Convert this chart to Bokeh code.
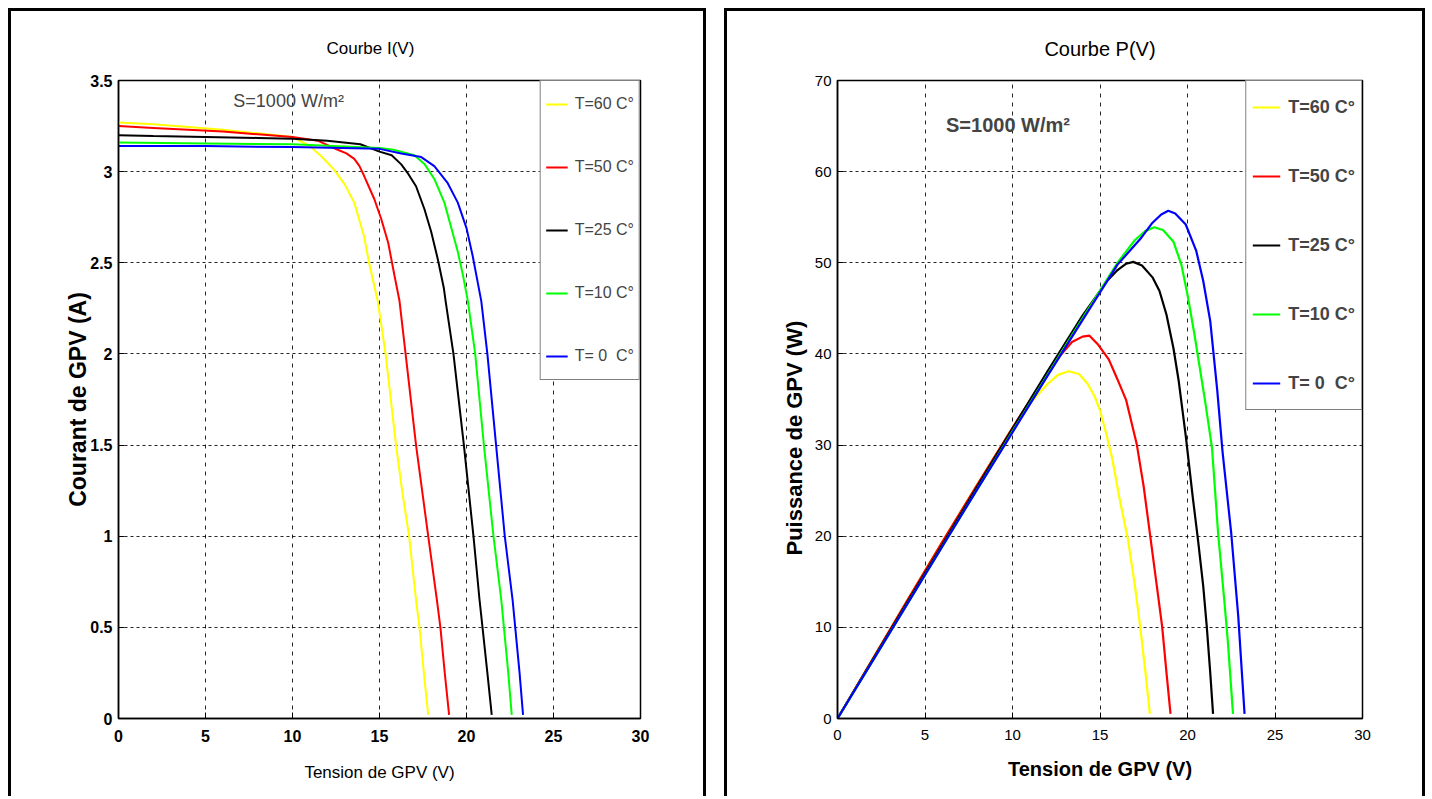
from bokeh.plotting import figure
from bokeh.models import FixedTicker, Legend, LegendItem, Label, Title
from bokeh.layouts import row
from bokeh.embed import file_html
from bokeh.resources import INLINE

# ---------------- data ----------------
labels = ["T=60 C°", "T=50 C°", "T=25 C°", "T=10 C°", "T= 0  C°"]
colors = ["#ffff00", "#ff0000", "#000000", "#00ff00", "#0000ff"]

# I(V) curves (V in volts, I in amps)
iv_v60 = [0, 2, 4, 6, 8, 10, 11, 11.7, 12.4, 13.0, 13.55, 14.1, 14.4, 14.9, 15.35, 15.95, 16.3, 16.7, 17.1, 17.3, 17.55, 17.8]
iv_i60 = [3.27, 3.26, 3.245, 3.23, 3.21, 3.19, 3.14, 3.08, 3.01, 2.93, 2.83, 2.65, 2.5, 2.29, 2.0, 1.5, 1.25, 1.0, 0.65, 0.5, 0.25, 0.02]
iv_v50 = [0, 2, 4, 6, 8, 10, 11.45, 12.6, 13.1, 13.55, 13.85, 14.1, 14.7, 15.1, 15.5, 15.86, 16.15, 16.5, 17.1, 17.8, 18.3, 18.5, 18.75, 19.0]
iv_i50 = [3.25, 3.24, 3.23, 3.22, 3.205, 3.19, 3.17, 3.12, 3.10, 3.07, 3.03, 2.98, 2.85, 2.74, 2.61, 2.43, 2.29, 2.0, 1.5, 1.0, 0.65, 0.5, 0.25, 0.02]
iv_v25 = [0, 2, 5, 8, 10, 12, 13.9, 15, 15.7, 16.25, 16.6, 17.1, 17.58, 17.97, 18.35, 18.7, 18.8, 19.25, 19.85, 20.4, 20.75, 20.92, 21.2, 21.45]
iv_i25 = [3.20, 3.195, 3.19, 3.185, 3.18, 3.17, 3.15, 3.11, 3.09, 3.04, 2.995, 2.92, 2.795, 2.67, 2.52, 2.36, 2.29, 2.0, 1.5, 1.0, 0.65, 0.5, 0.25, 0.02]
iv_v10 = [0, 5, 10, 15, 15.8, 17.0, 17.6, 18.15, 18.73, 19.1, 19.5, 19.8, 20.08, 20.5, 21.0, 21.55, 22.0, 22.15, 22.4, 22.6]
iv_i10 = [3.16, 3.155, 3.15, 3.13, 3.12, 3.09, 3.04, 2.96, 2.83, 2.70, 2.56, 2.43, 2.29, 2.0, 1.5, 1.0, 0.65, 0.5, 0.25, 0.02]
iv_v0 = [0, 5, 10, 15, 16.25, 17.4, 18.15, 18.9, 19.5, 20.0, 20.35, 20.65, 20.85, 21.2, 21.7, 22.2, 22.65, 22.8, 23.05, 23.25]
iv_i0 = [3.14, 3.14, 3.135, 3.125, 3.10, 3.08, 3.03, 2.94, 2.83, 2.69, 2.54, 2.39, 2.29, 2.0, 1.5, 1.0, 0.65, 0.5, 0.25, 0.02]

# P(V) curves (V in volts, P in watts)
pv_v60 = [0, 2, 4, 6, 8, 10, 11, 12, 12.6, 13.2, 13.8, 14.3, 14.7, 15.0, 15.35, 15.7, 16.1, 16.6, 17.0, 17.3, 17.6, 17.85]
pv_p60 = [0, 6.5, 13.0, 19.4, 25.7, 31.9, 34.6, 36.7, 37.7, 38.1, 37.8, 36.7, 35.3, 33.8, 31.3, 28.5, 24.3, 19.6, 14.5, 10.0, 5.0, 0.5]
pv_v50 = [0, 2, 4, 6, 8, 10, 12, 12.8, 13.4, 14.0, 14.4, 14.9, 15.5, 16.0, 16.5, 17.1, 17.5, 17.85, 18.25, 18.55, 18.8, 19.03]
pv_p50 = [0, 6.5, 13.0, 19.4, 25.7, 31.9, 37.9, 40.0, 41.3, 41.9, 42.0, 41.0, 39.4, 37.2, 34.9, 30.1, 25.4, 20.3, 14.5, 10.1, 5.0, 0.5]
pv_v25 = [0, 2, 4, 6, 8, 10, 12, 14, 15.4, 16.0, 16.5, 16.9, 17.4, 18.0, 18.4, 18.8, 19.2, 19.5, 19.9, 20.3, 20.6, 20.9, 21.1, 21.3, 21.46]
pv_p25 = [0, 6.4, 12.8, 19.1, 25.5, 31.8, 38.1, 44.2, 48.0, 49.2, 49.9, 50.1, 49.7, 48.4, 46.9, 44.3, 40.6, 37.0, 31.0, 24.3, 19.6, 14.5, 10.1, 5.0, 0.5]
pv_v10 = [0, 2, 4, 6, 8, 10, 12, 14, 16, 17.0, 17.6, 18.1, 18.6, 19.2, 19.65, 20.0, 20.4, 20.7, 21.0, 21.4, 21.75, 22.1, 22.3, 22.6]
pv_p10 = [0, 6.3, 12.6, 18.9, 25.2, 31.5, 37.7, 43.9, 50.0, 52.5, 53.5, 53.9, 53.6, 52.3, 49.8, 46.5, 42.1, 38.5, 34.9, 29.7, 20.3, 13.0, 8.6, 0.5]
pv_v0 = [0, 2, 4, 6, 8, 10, 12, 14, 16, 17.3, 18.0, 18.5, 18.9, 19.3, 19.9, 20.5, 20.9, 21.3, 21.7, 22.0, 22.5, 22.9, 23.26]
pv_p0 = [0, 6.3, 12.6, 18.9, 25.2, 31.4, 37.6, 43.7, 49.8, 52.6, 54.4, 55.3, 55.7, 55.4, 54.2, 51.3, 48.0, 43.6, 36.0, 29.3, 20.3, 11.2, 0.5]

x_ticks = [0, 5, 10, 15, 20, 25, 30]
i_ticks = [0, 0.5, 1, 1.5, 2, 2.5, 3, 3.5]
i_tick_labels = ["0", "0.5", "1", "1.5", "2", "2.5", "3", "3.5"]
p_ticks = [0, 10, 20, 30, 40, 50, 60, 70]
irradiance_text = "S=1000 W/m²"

iv_series = [(iv_v60, iv_i60), (iv_v50, iv_i50), (iv_v25, iv_i25), (iv_v10, iv_i10), (iv_v0, iv_i0)]
pv_series = [(pv_v60, pv_p60), (pv_v50, pv_p50), (pv_v25, pv_p25), (pv_v10, pv_p10), (pv_v0, pv_p0)]

FONT = "Liberation Sans"
BORDER = {"border-top": "3px solid black", "border-left": "3px solid black",
          "border-right": "3px solid black"}


def make_fig(w, mb_left, mb_right, y_end, yticks, ylabels, tick_style):
    p = figure(width=w, height=788, x_range=(0, 30), y_range=(0, y_end),
               output_backend="svg", toolbar_location=None,
               min_border_left=mb_left, min_border_right=mb_right,
               min_border_top=69, min_border_bottom=81)
    p.styles = BORDER
    p.title.text_font = FONT
    p.title.text_font_style = "normal"
    p.title.text_color = "black"
    p.outline_line_color = "black"
    p.outline_line_width = 1.5
    p.background_fill_color = "white"
    p.border_fill_color = "white"

    p.xaxis.ticker = FixedTicker(ticks=x_ticks)
    p.yaxis.ticker = FixedTicker(ticks=yticks)
    p.yaxis.major_label_overrides = {t: l for t, l in zip(yticks, ylabels)}
    for ax in (p.xaxis[0], p.yaxis[0]):
        ax.axis_line_color = "black"
        ax.axis_line_width = 1.5
        ax.major_tick_in = 6
        ax.major_tick_out = 0
        ax.minor_tick_line_color = None
        ax.major_label_text_font = FONT
        ax.major_label_text_font_size = tick_style[0]
        ax.major_label_text_font_style = tick_style[1]
        ax.major_label_text_color = "black"
        ax.axis_label_text_font = FONT
        ax.axis_label_text_color = "black"
    p.xaxis.major_label_standoff = 11
    p.yaxis.major_label_standoff = 6

    for g in (p.xgrid[0], p.ygrid[0]):
        g.grid_line_color = "black"
        g.grid_line_alpha = 0.85
        g.grid_line_width = 1
    p.xgrid.grid_line_dash = "4 5"
    p.ygrid.grid_line_dash = "3 3"
    return p


# ---------------- left: I(V) ----------------
p1 = make_fig(698, 107, 69, 3.5, i_ticks, i_tick_labels, ("16px", "bold"))
p1.title.text = "Courbe I(V)"
p1.title.text_font_size = "17px"
p1.title.align = "left"
p1.title.offset = 208
p1.title.standoff = 45
p1.xaxis.axis_label = "Tension de GPV (V)"
p1.xaxis.axis_label_text_font_size = "17px"
p1.xaxis.axis_label_text_font_style = "normal"
p1.xaxis.axis_label_standoff = 18
p1.yaxis.axis_label = "Courant de GPV (A)"
p1.yaxis.axis_label_text_font_size = "23px"
p1.yaxis.axis_label_text_font_style = "bold"
p1.yaxis.axis_label_standoff = -4

items1 = []
for (vx, vy), c, lab in zip(iv_series, colors, labels):
    r = p1.line(vx, vy, line_color=c, line_width=2)
    items1.append(LegendItem(label=lab, renderers=[r]))
p1.add_layout(Label(x=6.6, y=3.39, text=irradiance_text, text_font=FONT,
                    text_font_size="18px", text_baseline="middle", text_align="left"))
leg1 = Legend(items=items1, location="top_right", margin=0, padding=5, spacing=27,
              label_text_font=FONT, label_text_font_size="16px",
              label_text_font_style="normal", glyph_width=22, glyph_height=36,
              label_height=36, label_standoff=7, border_line_color="black",
              border_line_width=1.2, background_fill_alpha=1)
p1.add_layout(leg1)

# ---------------- right: P(V) ----------------
p2 = make_fig(701, 110, 66, 70, p_ticks, [str(t) for t in p_ticks], ("15px", "normal"))
p2.title.text = "Courbe P(V)"
p2.title.text_font_size = "20px"
p2.title.align = "center"
p2.title.standoff = 41
p2.xaxis.axis_label = "Tension de GPV (V)"
p2.xaxis.axis_label_text_font_size = "20px"
p2.xaxis.axis_label_text_font_style = "bold"
p2.xaxis.axis_label_standoff = 15
# y-axis title sits below the frame centre in the original: a left-side title with an offset
p2.add_layout(Title(text="Puissance de GPV (W)", text_font=FONT, text_font_size="22px",
                    text_font_style="bold", text_color="black", align="left",
                    offset=163, standoff=9), "left")

items2 = []
for (vx, vy), c, lab in zip(pv_series, colors, labels):
    r = p2.line(vx, vy, line_color=c, line_width=2.2)
    items2.append(LegendItem(label=lab, renderers=[r]))
p2.add_layout(Label(x=6.2, y=65.1, text=irradiance_text, text_font=FONT,
                    text_font_size="20px", text_font_style="bold",
                    text_baseline="middle", text_align="left"))
leg2 = Legend(items=items2, location="top_right", margin=0, padding=6, spacing=29,
              label_text_font=FONT, label_text_font_size="18px",
              label_text_font_style="bold", glyph_width=28, glyph_height=40,
              label_height=40, label_standoff=8, border_line_color="black",
              border_line_width=1.2, background_fill_alpha=1)
p2.add_layout(leg2)

layout = row(p1, p2, spacing=18)
layout.margin = (8, 0, 0, 8)
open("out.html", "w").write(file_html(layout, INLINE))
